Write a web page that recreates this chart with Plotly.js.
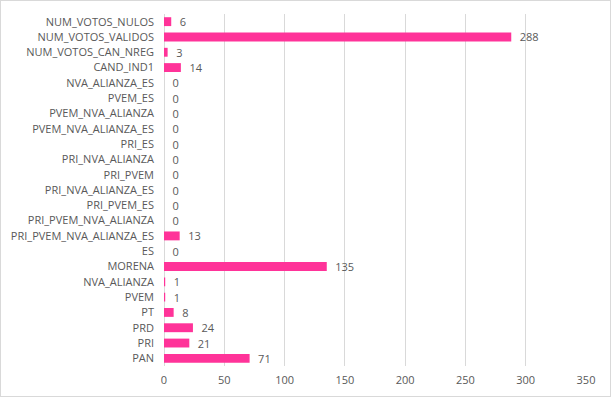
<!DOCTYPE html>
<html><head><meta charset="utf-8">
<script src="https://cdn.plot.ly/plotly-3.0.1.min.js"></script>
<style>
html,body{margin:0;padding:0;background:#fff;}
#chart{width:609px;height:395px;border:1px solid #d9d9d9;}
</style></head>
<body><div id="chart"></div>
<script>
const categories = ["PAN","PRI","PRD","PT","PVEM","NVA_ALIANZA","MORENA","ES",
  "PRI_PVEM_NVA_ALIANZA_ES","PRI_PVEM_NVA_ALIANZA","PRI_PVEM_ES","PRI_NVA_ALIANZA_ES",
  "PRI_PVEM","PRI_NVA_ALIANZA","PRI_ES","PVEM_NVA_ALIANZA_ES","PVEM_NVA_ALIANZA","PVEM_ES",
  "NVA_ALIANZA_ES","CAND_IND1","NUM_VOTOS_CAN_NREG","NUM_VOTOS_VALIDOS","NUM_VOTOS_NULOS"];
const votes = [71,21,24,8,1,1,135,0,13,0,0,0,0,0,0,0,0,0,0,14,3,288,6];
const xTicks = [0,50,100,150,200,250,300,350];

const trace = {
  type:'bar', orientation:'h', y:categories, x:votes,
  marker:{color:'#ff3399'},
  texttemplate:'\u2002%{x}', textposition:'outside', cliponaxis:false, constraintext:'none',
  textfont:{family:'Open Sans, sans-serif', size:11, color:'#595959'},
  hoverinfo:'none'
};
const layout = {
  width:609, height:395,
  margin:{l:163, r:24, t:13, b:30},
  paper_bgcolor:'#fff', plot_bgcolor:'#fff',
  bargap:0.42, showlegend:false,
  font:{family:'Open Sans, sans-serif', size:11, color:'#595959'},
  xaxis:{range:[0,350], tickvals:xTicks, showgrid:true, gridcolor:'#d9d9d9', gridwidth:1,
    zeroline:true, zerolinecolor:'#d9d9d9', showline:false, ticks:'', fixedrange:true,
    ticklabelstandoff:6, tickfont:{size:11, color:'#595959'}},
  yaxis:{type:'category', categoryorder:'array', categoryarray:categories, automargin:false,
    showgrid:false, zeroline:false, showline:false, ticks:'', ticklabelstandoff:9,
    tickfont:{size:11, color:'#595959'}, fixedrange:true}
};
Plotly.newPlot('chart',[trace],layout,{displayModeBar:false,staticPlot:true});
</script></body></html>
